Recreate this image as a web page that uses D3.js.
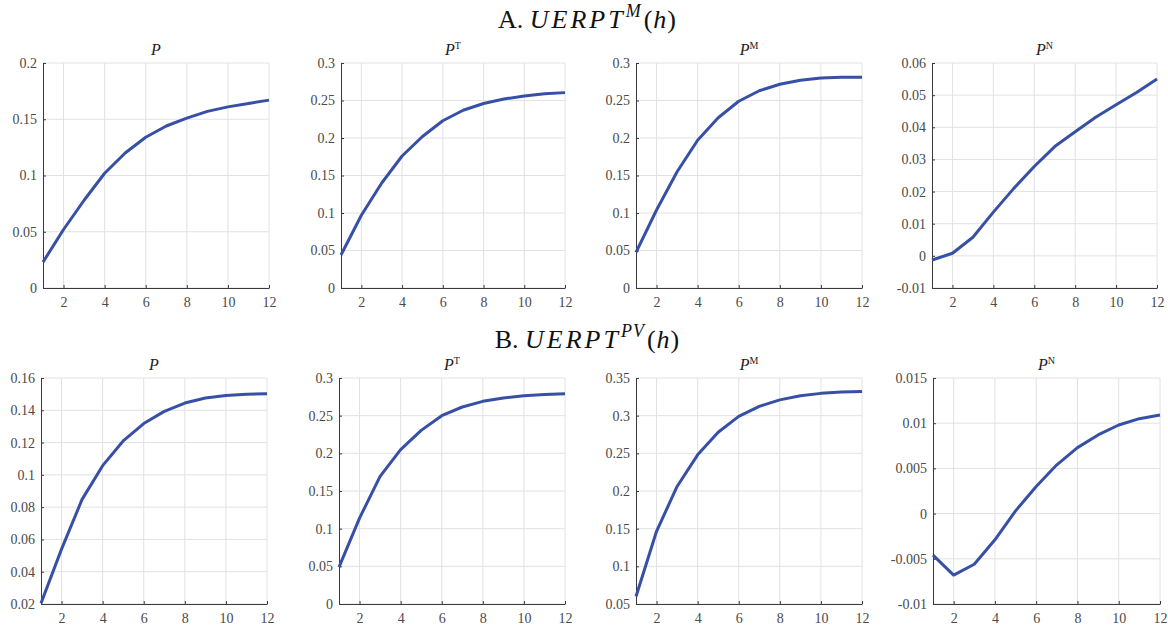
<!DOCTYPE html>
<html>
<head>
<meta charset="utf-8">
<script src="https://cdn.jsdelivr.net/npm/d3@7"></script>
<style>
  html, body { margin: 0; padding: 0; background: #fff; }
  svg { display: block; }
  svg text { font-family: "Times New Roman", "Liberation Serif", Tinos, "DejaVu Serif", "Noto Serif", serif; }
  .grid line { stroke: #e2e2e2; stroke-width: 1; }
  .axis path, .axis line { stroke: #3a3a3a; stroke-width: 1; }
  .axis text { fill: #4a4a4a; font-size: 14px; }
  .series { fill: none; stroke: #3750a6; stroke-width: 3; stroke-linejoin: round; }
</style>
</head>
<body>
<svg id="chart" width="1168" height="630"></svg>
<script>
var horizons = [1, 2, 3, 4, 5, 6, 7, 8, 9, 10, 11, 12];
var xTicks = [2, 4, 6, 8, 10, 12];

// Panel A: UERPT^M(h)
var aP  = [0.023, 0.052, 0.078, 0.102, 0.120, 0.134, 0.144, 0.151, 0.157, 0.161, 0.164, 0.167];
var aPT = [0.044, 0.097, 0.140, 0.176, 0.202, 0.223, 0.237, 0.246, 0.252, 0.256, 0.259, 0.2605];
var aPM = [0.0475, 0.104, 0.155, 0.197, 0.227, 0.249, 0.263, 0.2716, 0.277, 0.280, 0.281, 0.281];
var aPN = [-0.0013, 0.0008, 0.0058, 0.0136, 0.021, 0.0278, 0.034, 0.0386, 0.0431, 0.047, 0.0508, 0.055];

// Panel B: UERPT^PV(h)
var bP  = [0.0205, 0.054, 0.0848, 0.1057, 0.121, 0.1318, 0.1393, 0.1445, 0.1476, 0.1492, 0.150, 0.1503];
var bPT = [0.049, 0.114, 0.1695, 0.205, 0.2305, 0.250, 0.2615, 0.269, 0.2735, 0.2765, 0.278, 0.279];
var bPM = [0.060, 0.1465, 0.206, 0.248, 0.278, 0.299, 0.3124, 0.321, 0.3265, 0.3296, 0.3314, 0.332];
var bPN = [-0.0046, -0.0068, -0.0056, -0.0029, 0.0003, 0.003, 0.0054, 0.0073, 0.0087, 0.0098, 0.0105, 0.0109];

// y-axis ranges and tick steps
var aDomains = [[0, 0.2], [0, 0.3], [0, 0.3], [-0.01, 0.06]];
var aSteps   = [0.05, 0.05, 0.05, 0.01];
var bDomains = [[0.02, 0.16], [0, 0.3], [0.05, 0.35], [-0.01, 0.015]];
var bSteps   = [0.02, 0.05, 0.05, 0.005];

var panelLetters = ['', 'T', 'M', 'N'];

var rows = [
  {
    label: 'A.', sup: 'M', titleY: 28, top: 63, bottom: 288,
    lefts: [43, 341, 636, 932], rights: [269, 565, 862, 1157],
    series: [aP, aPT, aPM, aPN], domains: aDomains, steps: aSteps
  },
  {
    label: 'B.', sup: 'PV', titleY: 348, top: 378, bottom: 604,
    lefts: [41, 339, 636, 933], rights: [267, 565, 862, 1160],
    series: [bP, bPT, bPM, bPN], domains: bDomains, steps: bSteps
  }
];

var svg = d3.select('#chart');

rows.forEach(function(row) {
  drawRowTitle(svg, row);
  row.series.forEach(function(values, i) {
    drawPanel(svg, {
      left: row.lefts[i],
      right: row.rights[i],
      top: row.top,
      bottom: row.bottom,
      values: values,
      domain: row.domains[i],
      step: row.steps[i],
      letter: panelLetters[i]
    });
  });
});


function drawRowTitle(el, row) {
  var t = el.append('text')
    .attr('x', 587)
    .attr('y', row.titleY)
    .attr('text-anchor', 'middle')
    .style('font-size', '26px')
    .style('fill', '#111');

  t.append('tspan').text(row.label + '  ');
  t.append('tspan')
    .style('font-style', 'italic')
    .style('letter-spacing', '3px')
    .text('UERPT');
  t.append('tspan')
    .attr('dy', -11)
    .style('font-style', 'italic')
    .style('font-size', '18px')
    .style('letter-spacing', '1px')
    .text(row.sup);
  t.append('tspan').attr('dy', 11).attr('dx', 2).text('(');
  t.append('tspan').style('font-style', 'italic').attr('dx', 1).text('h');
  t.append('tspan').attr('dx', 1).text(')');
}


function stepTicks(domain, step) {
  var n = Math.round((domain[1] - domain[0]) / step);
  return d3.range(n + 1).map(function(i) {
    return +(domain[0] + i * step).toFixed(6);
  });
}


function drawPanel(el, opts) {
  var x = d3.scaleLinear().domain([1, 12]).range([opts.left, opts.right]);
  var y = d3.scaleLinear().domain(opts.domain).range([opts.bottom, opts.top]);
  var yTicks = stepTicks(opts.domain, opts.step);

  var g = el.append('g');

  var grid = g.append('g').attr('class', 'grid');

  grid.selectAll('.gx')
    .data(xTicks)
    .enter()
    .append('line')
      .attr('x1', function(d) { return x(d); })
      .attr('x2', function(d) { return x(d); })
      .attr('y1', opts.top)
      .attr('y2', opts.bottom);

  grid.selectAll('.gy')
    .data(yTicks)
    .enter()
    .append('line')
      .attr('x1', opts.left)
      .attr('x2', opts.right)
      .attr('y1', function(d) { return y(d); })
      .attr('y2', function(d) { return y(d); });

  var fmt = function(d) { return String(d); };

  g.append('g')
    .attr('class', 'axis')
    .attr('transform', translate(0, opts.bottom))
    .call(d3.axisBottom(x).tickValues(xTicks).tickSizeInner(-3).tickSizeOuter(0)
      .tickPadding(9).tickFormat(fmt));

  g.append('g')
    .attr('class', 'axis')
    .attr('transform', translate(opts.left, 0))
    .call(d3.axisLeft(y).tickValues(yTicks).tickSizeInner(-3).tickSizeOuter(0)
      .tickPadding(6).tickFormat(fmt));

  g.selectAll('.axis').attr('font-family', null).attr('font-size', null);

  var line = d3.line()
    .x(function(d, i) { return x(horizons[i]); })
    .y(function(d) { return y(d); });

  g.append('path')
    .datum(opts.values)
    .attr('class', 'series')
    .attr('d', line);

  var title = g.append('text')
    .attr('x', (opts.left + opts.right) / 2)
    .attr('y', opts.top - 8)
    .attr('text-anchor', 'middle')
    .style('font-size', '16px')
    .style('fill', '#222');

  title.append('tspan').style('font-style', 'italic').text('P');
  if (opts.letter) {
    title.append('tspan')
      .attr('dy', -6)
      .style('font-size', '10px')
      .text(opts.letter);
  }
}


function translate(x, y) {
  return 'translate(' + x + ',' + y + ')';
}
</script>
</body>
</html>
